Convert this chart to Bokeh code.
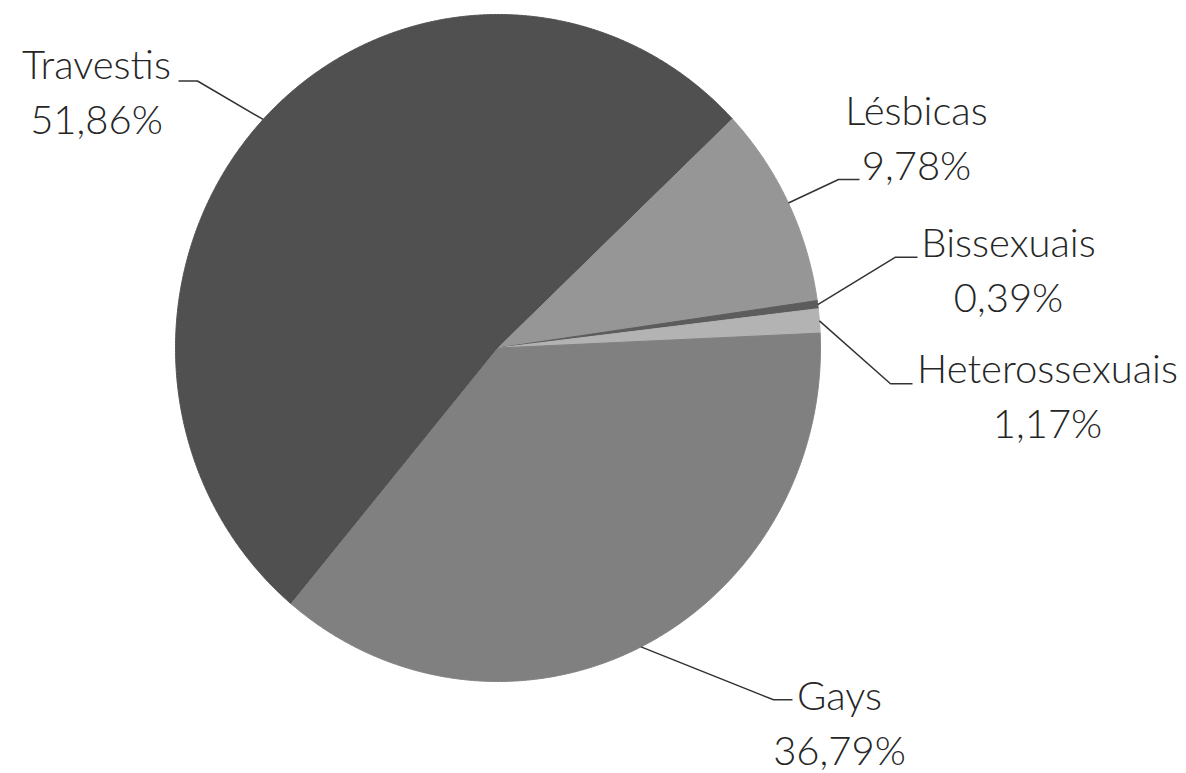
import numpy as np
from bokeh.plotting import figure
from bokeh.models import Range1d, ColumnDataSource
from bokeh.embed import file_html
from bokeh.resources import INLINE
from bokeh.core.properties import value

# ---------------- data ----------------
categories = ["Travestis", "Lésbicas", "Bissexuais", "Heterossexuais", "Gays"]
percentages = [51.86, 9.78, 0.39, 1.17, 36.79]
colors = ["#505050", "#969696", "#5c5c5c", "#b3b3b3", "#808080"]

# ---------------- layout (screen px) ----------------
W, H = 1186, 773
CX, CY, RX, RY = 497.5, 347.5, 322.5, 333.5
START_DEG = 219.9          # first slice start, clockwise from 12 o'clock
# leader elbow, leader end, label centre x, first baseline y
elbow_x = [197, 838, 895, 890, 773]
elbow_y = [80.5, 179, 256.7, 383.3, 699.3]
end_x = [178, 859, 917, 912, 792]
label_cx = [96, 916, 1008, 1047, 839]
label_y = [79, 125, 257, 383, 710]
TEXT_SHIFT = -16           # renderer baseline correction
LINE_GAP = 55
FONT = "Lato Light"
FONT_SIZE = "40px"

total = sum(percentages)
angles = [p / total * 360.0 for p in percentages]


def pt(deg, f=1.0):
    a = np.radians(deg)
    return CX + f * RX * np.sin(a), CY - f * RY * np.cos(a)


xs, ys, mids = [], [], []
cur = START_DEG
for a in angles:
    t = np.linspace(cur, cur + a, max(int(a * 4), 4))
    px, py = pt(t)
    xs.append([CX] + list(px))
    ys.append([CY] + list(py))
    mids.append(cur + a / 2)
    cur += a

p = figure(width=W, height=H, x_range=Range1d(0, W), y_range=Range1d(H, 0),
           output_backend="svg", toolbar_location=None, min_border=0)
p.axis.visible = False
p.grid.visible = False
p.outline_line_color = None
p.background_fill_color = "white"

src = ColumnDataSource(dict(xs=xs, ys=ys, color=colors, cat=categories))
p.patches("xs", "ys", source=src, fill_color="color", line_color="color", line_width=1)

lx, ly = [], []
for i, m in enumerate(mids):
    ex, ey = pt(m)
    lx.append([ex, elbow_x[i], end_x[i]])
    ly.append([ey, elbow_y[i], elbow_y[i]])
p.multi_line(lx, ly, line_color="#333333", line_width=1.5)

pct_text = [f"{v:.2f}".replace(".", ",") + "%" for v in percentages]
lab = ColumnDataSource(dict(x=label_cx,
                            y1=[y + TEXT_SHIFT for y in label_y],
                            y2=[y + TEXT_SHIFT + LINE_GAP for y in label_y],
                            name=categories, pct=pct_text))
for col_y, col_t in (("y1", "name"), ("y2", "pct")):
    p.text(x="x", y=col_y, text=col_t, source=lab, text_align="center",
           text_baseline="alphabetic", text_font=value(FONT), text_font_size=FONT_SIZE,
           text_color="#262626")

open("out.html", "w").write(file_html(p, INLINE))
